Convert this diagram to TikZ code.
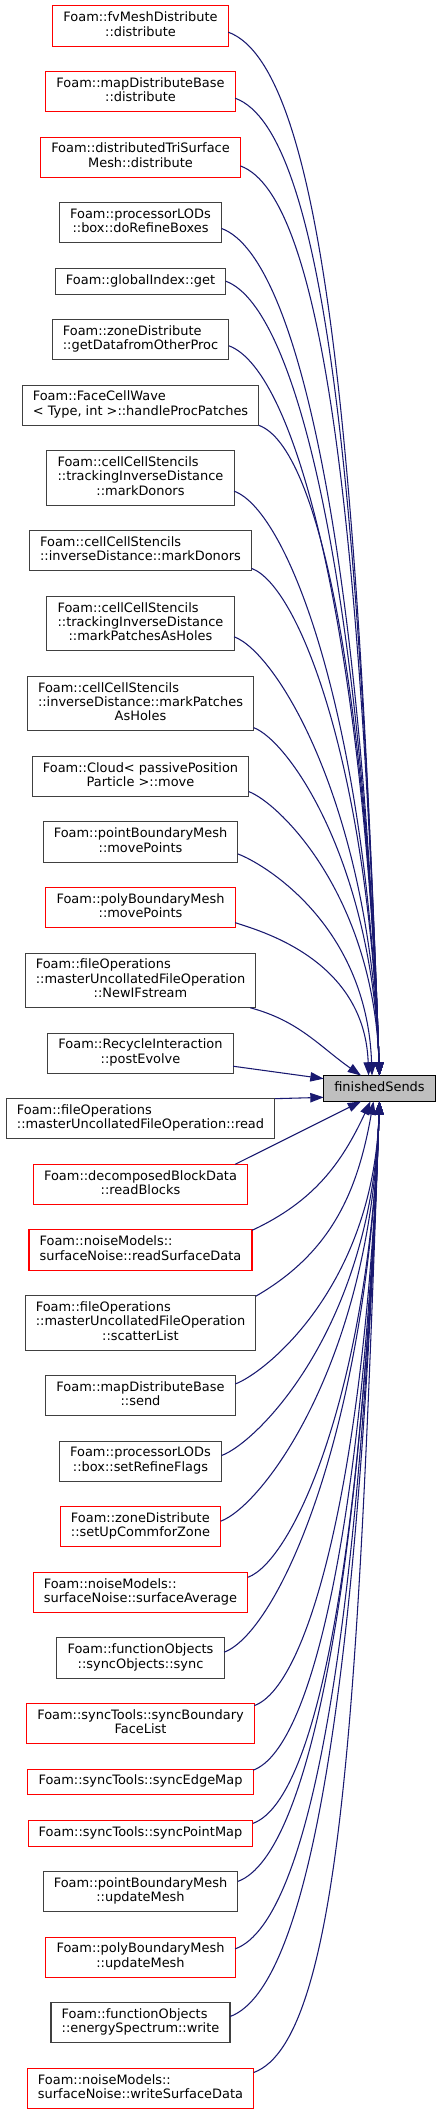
\documentclass[tikz,border=0pt]{standalone}
\usepackage{fontspec}
\setmainfont{DejaVu Sans}
\usetikzlibrary{arrows.meta, positioning, calc}
\definecolor{midnight}{HTML}{191970}
\definecolor{grayline}{HTML}{404040}
\definecolor{grayfill}{HTML}{BFBFBF}
% left lines, last line centred (graphviz \l labels)
\newcommand{\twolines}[2]{\begin{tabular}{@{}l@{}}#1\\\multicolumn{1}{@{}c@{}}{#2}\end{tabular}}
\newcommand{\threelines}[3]{\begin{tabular}{@{}l@{}}#1\\#2\\\multicolumn{1}{@{}c@{}}{#3}\end{tabular}}
\tikzset{
    font=\fontsize{9.7}{10.8}\selectfont,
    >={Triangle[length=10pt, width=7pt]},
    % Nodes
    fn/.style={rectangle, draw=grayline, fill=white, line width=0.8pt,
               inner xsep=8pt, inner ysep=4.3pt, outer sep=0pt},
    fnRed/.style={fn, draw=red},
    fnSel/.style={fn, draw=black, fill=grayfill},
    % Calls
    call/.style={->, midnight, line width=0.8pt},
    callAbove/.style={call, out=-20, in=92, out looseness=0.25, in looseness=1.5},
    callBelow/.style={call, out=20, in=-92, out looseness=0.25, in looseness=1.5}
}

\begin{document}
\begin{tikzpicture}[x=0.75pt, y=0.75pt, node distance=19pt]

\useasboundingbox (0,0) rectangle (441,-2115);

\node[fnRed] (fvdist) at (140.5,-26) {\twolines{Foam::fvMeshDistribute}{::distribute}};
\node[fnRed, below=of fvdist] (mapdist) {\twolines{Foam::mapDistributeBase}{::distribute}};
\node[fnRed, below=of mapdist] (tridist) {\twolines{Foam::distributedTriSurface}{Mesh::distribute}};
\node[fn, below=of tridist] (dorefine) {\twolines{Foam::processorLODs}{::box::doRefineBoxes}};
\node[fn, below=of dorefine] (gget) {\strut Foam::globalIndex::get};
\node[fn, below=of gget] (getdata) {\twolines{Foam::zoneDistribute}{::getDatafromOtherProc}};
\node[fn, below=of getdata] (handleproc) {\twolines{Foam::FaceCellWave}{< Type, int >::handleProcPatches}};
\node[fn, below=of handleproc] (trackdonors) {\threelines{Foam::cellCellStencils}{::trackingInverseDistance}{::markDonors}};
\node[fn, below=of trackdonors] (invdonors) {\twolines{Foam::cellCellStencils}{::inverseDistance::markDonors}};
\node[fn, below=of invdonors] (trackholes) {\threelines{Foam::cellCellStencils}{::trackingInverseDistance}{::markPatchesAsHoles}};
\node[fn, below=of trackholes] (invholes) {\threelines{Foam::cellCellStencils}{::inverseDistance::markPatches}{AsHoles}};
\node[fn, below=of invholes] (cloudmove) {\twolines{Foam::Cloud< passivePosition}{Particle >::move}};
\node[fn, below=of cloudmove] (pbmove) {\twolines{Foam::pointBoundaryMesh}{::movePoints}};
\node[fnRed, below=of pbmove] (polymove) {\twolines{Foam::polyBoundaryMesh}{::movePoints}};
\node[fn, below=of polymove] (newifs) {\threelines{Foam::fileOperations}{::masterUncollatedFileOperation}{::NewIFstream}};
\node[fn, below=of newifs] (postevolve) {\twolines{Foam::RecycleInteraction}{::postEvolve}};
\node[fn, below=of postevolve] (muread) {\twolines{Foam::fileOperations}{::masterUncollatedFileOperation::read}};
\node[fnRed, below=of muread] (readblocks) {\twolines{Foam::decomposedBlockData}{::readBlocks}};
\node[fnRed, below=of readblocks] (readsurf) {\twolines{Foam::noiseModels::}{surfaceNoise::readSurfaceData}};
\node[fn, below=of readsurf] (scatter) {\threelines{Foam::fileOperations}{::masterUncollatedFileOperation}{::scatterList}};
\node[fn, below=of scatter] (mapsend) {\twolines{Foam::mapDistributeBase}{::send}};
\node[fn, below=of mapsend] (setrefine) {\twolines{Foam::processorLODs}{::box::setRefineFlags}};
\node[fnRed, below=of setrefine] (setupcomm) {\twolines{Foam::zoneDistribute}{::setUpCommforZone}};
\node[fnRed, below=of setupcomm] (surfavg) {\twolines{Foam::noiseModels::}{surfaceNoise::surfaceAverage}};
\node[fn, below=of surfavg] (syncobj) {\twolines{Foam::functionObjects}{::syncObjects::sync}};
\node[fnRed, below=of syncobj] (syncbf) {\twolines{Foam::syncTools::syncBoundary}{FaceList}};
\node[fnRed, below=of syncbf] (syncedge) {\strut Foam::syncTools::syncEdgeMap};
\node[fnRed, below=of syncedge] (syncpoint) {\strut Foam::syncTools::syncPointMap};
\node[fn, below=of syncpoint] (pbupdate) {\twolines{Foam::pointBoundaryMesh}{::updateMesh}};
\node[fnRed, below=of pbupdate] (polyupdate) {\twolines{Foam::polyBoundaryMesh}{::updateMesh}};
\node[fn, below=of polyupdate] (energywrite) {\twolines{Foam::functionObjects}{::energySpectrum::write}};
\node[fnRed, below=of energywrite] (writesurf) {\twolines{Foam::noiseModels::}{surfaceNoise::writeSurfaceData}};

\node[fnSel] (finished) at (379.5,-1088.5) {\strut finishedSends};

% callers above
\draw[callAbove] (fvdist.-4) to (finished.north);
\draw[callAbove] (mapdist.-4) to (finished.north);
\draw[callAbove] (tridist.-5) to (finished.north);
\draw[callAbove] (dorefine.-4) to (finished.north);
\draw[callAbove] (gget.east) to (finished.north);
\draw[callAbove] (getdata.-4) to (finished.north);
\draw[callAbove] (handleproc.south east) to (finished.north);
\draw[callAbove] (trackdonors.-8) to (finished.north);
\draw[callAbove] (invdonors.-9) to (finished.north);
\draw[callAbove] (trackholes.-8) to (finished.north);
\draw[callAbove] (invholes.-12) to (finished.north);
\draw[callAbove] (cloudmove.-8) to (finished.north);
\draw[callAbove] (pbmove.-7) to (finished.120);
\draw[callAbove] (polymove.-9) to (finished.130);
\draw[call] (newifs.-14) to[out=-15, in=145] (finished.145);
\draw[call] (postevolve.-8) -- (finished.170);
% callers below
\draw[call] (muread.north east) -- (finished.189);
\draw[call] (readblocks.12) -- (finished.215);
\draw[call] (readsurf.10) to[out=25, in=-115] (finished.235);
\draw[call] (scatter.13) to[out=30, in=-100] (finished.245);
\draw[callBelow] (mapsend.7) to (finished.south);
\draw[callBelow] (setrefine.4) to (finished.south);
\draw[callBelow] (setupcomm.4) to (finished.south);
\draw[callBelow] (surfavg.8) to (finished.south);
\draw[callBelow] (syncobj.4) to (finished.south);
\draw[callBelow] (syncbf.9) to (finished.south);
\draw[callBelow] (syncedge.6) to (finished.south);
\draw[callBelow] (syncpoint.5) to (finished.south);
\draw[callBelow] (pbupdate.6) to (finished.south);
\draw[callBelow] (polyupdate.5) to (finished.south);
\draw[callBelow] (energywrite.4) to (finished.south);
\draw[callBelow] (writesurf.8) to (finished.south);

\end{tikzpicture}
\end{document}
